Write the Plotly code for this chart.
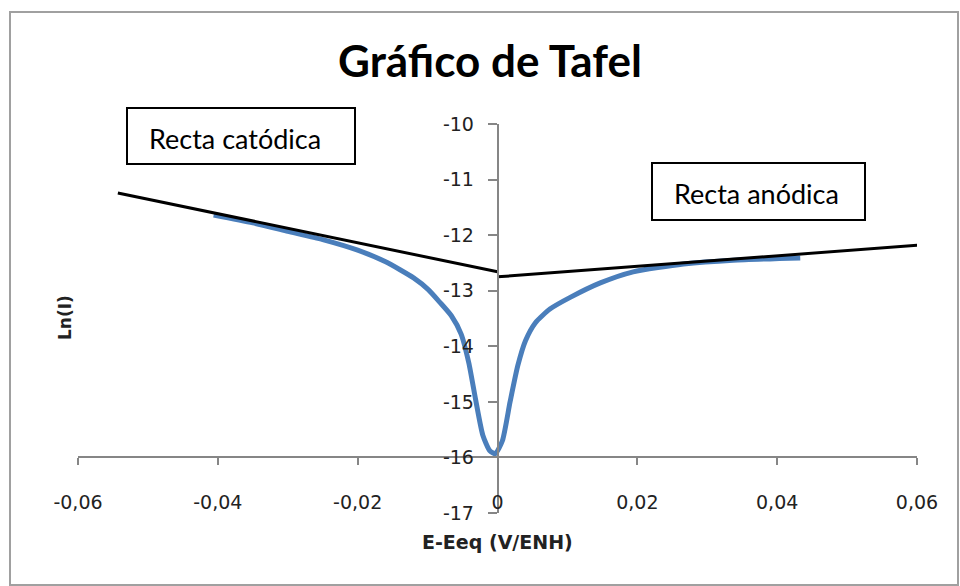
import plotly.graph_objects as go

# Measured polarization curve: potential offset (V vs ENH) and ln(I)
curve_x = [-0.0406, -0.035, -0.030, -0.025, -0.020, -0.016, -0.012, -0.0099,
           -0.0083, -0.0066, -0.0052, -0.0041, -0.0031, -0.0021, -0.0011,
           -0.0003, 0.0007, 0.0018, 0.0029, 0.0040, 0.0054, 0.0075, 0.0104,
           0.0147, 0.0194, 0.0266, 0.0337, 0.0433]
curve_y = [-11.64, -11.78, -11.93, -12.08, -12.27, -12.48, -12.77, -12.98,
           -13.20, -13.45, -13.78, -14.30, -14.98, -15.60, -15.88,
           -15.93, -15.70, -15.00, -14.35, -13.90, -13.58, -13.33, -13.12,
           -12.86, -12.66, -12.52, -12.45, -12.41]

# Tafel lines (end points)
cathodic_x = [-0.0543, 0.0]
cathodic_y = [-11.24, -12.66]
anodic_x = [0.0, 0.0634]
anodic_y = [-12.75, -12.15]

# Axis ticks
x_ticks = [-0.06, -0.04, -0.02, 0.0, 0.02, 0.04, 0.06]
x_tick_labels = ["-0,06", "-0,04", "-0,02", "0", "0,02", "0,04", "0,06"]
y_ticks = [-17, -16, -15, -14, -13, -12, -11, -10]
y_tick_labels = ["-17", "-16", "-15", "-14", "-13", "-12", "-11", "-10"]

title_text = "Gráfico de Tafel"
x_title = "E-Eeq (V/ENH)"
y_title = "Ln(I)"
cathodic_label = "Recta catódica"
anodic_label = "Recta anódica"

W, H = 960, 586
L, R, T, B = 78, 43, 124, 73
PW, PH = W - L - R, H - T - B


def px(x):
    return (x - L) / PW


def py(y):
    return (H - B - y) / PH


fig = go.Figure()
fig.add_trace(go.Scatter(x=curve_x, y=curve_y, mode="lines",
                         line=dict(color="#4a7ebb", width=5, shape="spline", smoothing=0.6),
                         hoverinfo="skip", showlegend=False))
fig.add_trace(go.Scatter(x=cathodic_x, y=cathodic_y, mode="lines",
                         line=dict(color="#000000", width=3),
                         showlegend=False))
fig.add_trace(go.Scatter(x=anodic_x, y=anodic_y, mode="lines",
                         line=dict(color="#000000", width=3),
                         showlegend=False))

tick_font = dict(family="DejaVu Sans", size=19, color="#222222")
axis_grey = "#868686"

y_min, y_max = -17, -10
x_cross_y = -16  # horizontal axis crosses at ln(I) = -16

fig.update_layout(
    width=W, height=H,
    margin=dict(l=L, r=R, t=T, b=B),
    paper_bgcolor="white", plot_bgcolor="white",
    showlegend=False,
    title=dict(text=title_text, x=490 / W, xanchor="center", xref="container",
               y=1 - 62 / H, yanchor="middle", yref="container",
               font=dict(family="Lato", size=44, color="#000000", weight="bold")),
    xaxis=dict(range=[-0.06, 0.06], tickvals=x_ticks, ticktext=x_tick_labels,
               showgrid=False, zeroline=False, showline=True, linecolor=axis_grey,
               linewidth=1.5, ticks="outside", ticklen=7, tickcolor=axis_grey,
               tickwidth=1.5, tickfont=tick_font, anchor="free",
               position=(x_cross_y - y_min) / (y_max - y_min),
               ticklabelstandoff=21),
    yaxis=dict(range=[y_min, y_max], tickvals=y_ticks, ticktext=y_tick_labels,
               showgrid=False, zeroline=False, showline=True, linecolor=axis_grey,
               linewidth=1.5, ticks="outside", ticklen=9, tickcolor=axis_grey,
               tickwidth=1.5, tickfont=tick_font, anchor="free",
               position=0.5, ticklabelstandoff=10),
)

# Outer chart frame
fig.add_shape(type="rect", xref="paper", yref="paper",
              x0=px(10), x1=px(958), y0=py(585), y1=py(12),
              line=dict(color="#a0a0a0", width=2), fillcolor="rgba(0,0,0,0)",
              layer="below")

# Label boxes
fig.add_shape(type="rect", xref="paper", yref="paper",
              x0=px(127), x1=px(355), y0=py(164), y1=py(108),
              line=dict(color="#000000", width=2), fillcolor="white")
fig.add_shape(type="rect", xref="paper", yref="paper",
              x0=px(652), x1=px(865), y0=py(220), y1=py(163),
              line=dict(color="#000000", width=2), fillcolor="white")

label_font = dict(family="Lato", size=27, color="#000000")
fig.add_annotation(text=cathodic_label, xref="paper", yref="paper",
                   x=px(235), y=py(138), xanchor="center", yanchor="middle",
                   showarrow=False, font=label_font)
fig.add_annotation(text=anodic_label, xref="paper", yref="paper",
                   x=px(756), y=py(193), xanchor="center", yanchor="middle",
                   showarrow=False, font=label_font)

# Axis titles
fig.add_annotation(text=x_title, xref="paper", yref="paper",
                   x=px(497), y=py(542), xanchor="center", yanchor="middle",
                   showarrow=False,
                   font=dict(family="DejaVu Sans", size=19, color="#222222", weight="bold"))
fig.add_annotation(text=y_title, xref="paper", yref="paper",
                   x=px(65), y=py(318), xanchor="center", yanchor="middle",
                   textangle=-90, showarrow=False,
                   font=dict(family="DejaVu Sans", size=17, color="#222222", weight="bold"))

fig.write_html("out.html")
